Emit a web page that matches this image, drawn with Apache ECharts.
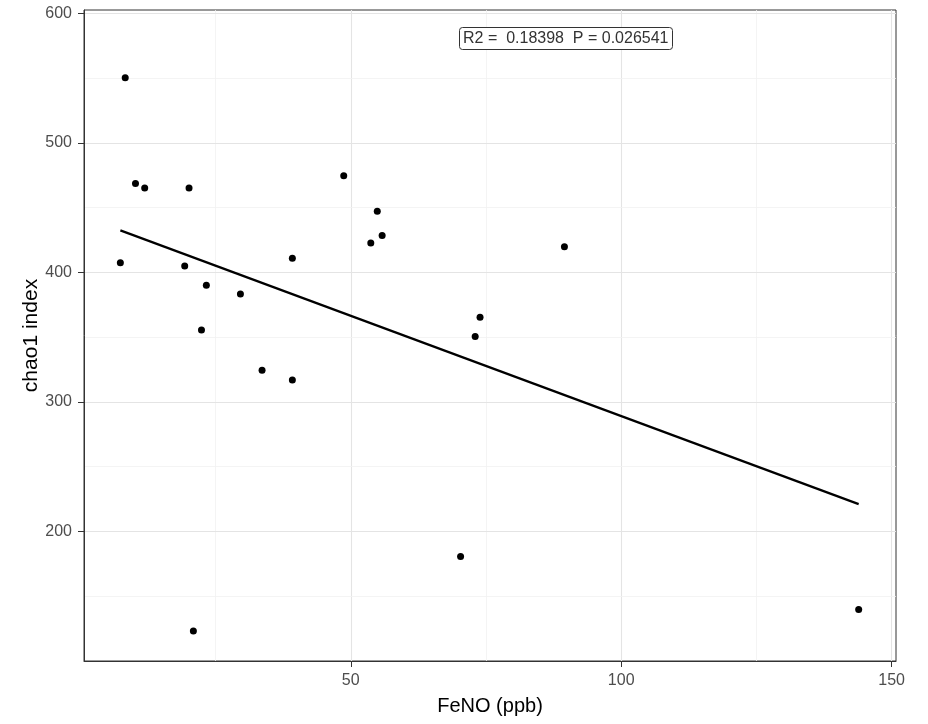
<!DOCTYPE html>
<html>
<head>
<meta charset="utf-8">
<script src="https://cdn.jsdelivr.net/npm/echarts@6/dist/echarts.min.js"></script>
<style>html,body{margin:0;padding:0;background:#fff}#c{width:928px;height:724px}</style>
</head>
<body>
<div id="c"></div>
<script>
// FeNO (ppb) values
const feno = [8.3, 10.2, 11.9, 20.1, 7.4, 19.3, 23.3, 29.6, 22.4, 39.2, 48.7, 54.9, 53.7, 55.8, 89.5, 73.9, 73.0, 20.9, 70.3, 143.9, 33.6, 39.2];
// chao1 index values
const chao1 = [550.2, 468.6, 465.2, 465.2, 407.5, 404.9, 390.0, 383.3, 355.5, 410.8, 474.6, 447.1, 422.6, 428.5, 419.8, 365.3, 350.4, 123.1, 180.7, 139.8, 324.4, 316.9];
// fitted regression line endpoints
const fitX = [7.4, 143.9];
const fitY = [432.4, 221.1];
// ticks and gridlines
const xTicks = [50, 100, 150];
const yTicks = [200, 300, 400, 500, 600];
const xMajorGrid = [50, 100, 150];
const xMinorGrid = [25, 75, 125];
const yMajorGrid = [200, 300, 400, 500, 600];
const yMinorGrid = [150, 250, 350, 450, 550];
const annotation = 'R2 =  0.18398  P = 0.026541';

const points = feno.map((x, i) => [x, chao1[i]]);
const fitLine = fitX.map((x, i) => [x, fitY[i]]);

const gridLines = [];
xMajorGrid.forEach(v => gridLines.push({xAxis: v, lineStyle: {color: '#e4e4e4', width: 1.1, type: 'solid'}}));
xMinorGrid.forEach(v => gridLines.push({xAxis: v, lineStyle: {color: '#f1f1f1', width: 0.8, type: 'solid'}}));
yMajorGrid.forEach(v => gridLines.push({yAxis: v, lineStyle: {color: '#e4e4e4', width: 1.1, type: 'solid'}}));
yMinorGrid.forEach(v => gridLines.push({yAxis: v, lineStyle: {color: '#f1f1f1', width: 0.8, type: 'solid'}}));

const font = '"Liberation Sans", Arial, sans-serif';
const chart = echarts.init(document.getElementById('c'), null, {renderer: 'canvas'});
chart.setOption({
  animation: false,
  backgroundColor: '#ffffff',
  title: {
    text: annotation,
    left: 459, top: 27,
    padding: [3, 4, 3, 4],
    backgroundColor: '#ffffff',
    borderColor: '#333333', borderWidth: 1, borderRadius: 3,
    textStyle: {fontFamily: font, fontSize: 16, fontWeight: 'normal', color: '#333333', lineHeight: 17}
  },
  grid: {left: 84, right: 32, top: 10, bottom: 63, show: true, borderColor: '#333333', borderWidth: 1, backgroundColor: 'transparent'},
  xAxis: {
    type: 'value', min: 0.68, max: 150.8,
    name: 'FeNO (ppb)', nameLocation: 'middle', nameGap: 35,
    nameTextStyle: {fontFamily: font, fontSize: 20, color: '#000000'},
    axisLine: {show: true, onZero: false, lineStyle: {color: '#333333', width: 1}},
    axisTick: {show: true, length: 6, lineStyle: {color: '#333333'}, customValues: xTicks},
    axisLabel: {fontFamily: font, fontSize: 16, color: '#4d4d4d', margin: 12, customValues: xTicks},
    splitLine: {show: false}
  },
  yAxis: {
    type: 'value', min: 100, max: 602.5,
    name: 'chao1 index', nameLocation: 'middle', nameGap: 42, nameRotate: 90, nameMoveOverlap: false,
    nameTextStyle: {fontFamily: font, fontSize: 21, color: '#000000'},
    axisLine: {show: true, onZero: false, lineStyle: {color: '#333333', width: 1}},
    axisTick: {show: true, length: 6, lineStyle: {color: '#333333'}, customValues: yTicks},
    axisLabel: {fontFamily: font, fontSize: 16, color: '#4d4d4d', margin: 12, customValues: yTicks},
    splitLine: {show: false}
  },
  series: [
    {
      type: 'line', data: [], silent: true, z: 0, zlevel: 0,
      markLine: {silent: true, symbol: 'none', z: 0, label: {show: false}, animation: false, data: gridLines}
    },
    {
      type: 'line', data: fitLine, showSymbol: false, symbol: 'none', silent: true,
      lineStyle: {color: '#000000', width: 2.2}, z: 5
    },
    {
      type: 'scatter', data: points, symbol: 'circle', symbolSize: 7,
      itemStyle: {color: '#000000', opacity: 1}, z: 6
    }
  ]
});
</script>
</body>
</html>
